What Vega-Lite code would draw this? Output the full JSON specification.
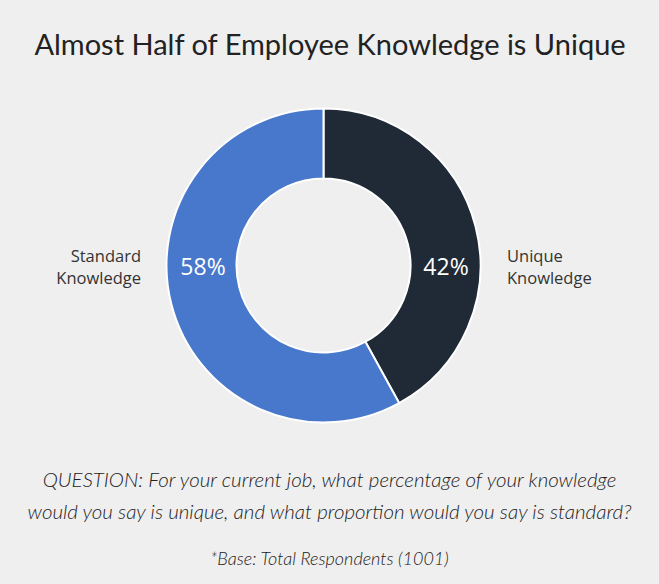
{
  "$schema": "https://vega.github.io/schema/vega-lite/v6.json",
  "autosize": {"type": "fit", "contains": "padding"},
  "width": 659,
  "height": 584,
  "padding": {"left": 0, "right": 12, "top": 31, "bottom": 15},
  "background": "#efefef",
  "config": {"view": {"stroke": null}},
  "title": {
    "text": ["QUESTION: For your current job, what percentage of your knowledge", "would you say is unique, and what proportion would you say is standard?"],
    "subtitle": "*Base: Total Respondents (1001)",
    "orient": "bottom",
    "anchor": "middle",
    "dx": 6,
    "offset": 4,
    "font": "Lato",
    "fontSize": 20.5,
    "fontStyle": "italic",
    "fontWeight": 300,
    "lineHeight": 32,
    "color": "#222222",
    "subtitleFont": "Lato",
    "subtitleFontSize": 18,
    "subtitleFontStyle": "italic",
    "subtitleFontWeight": 300,
    "subtitleColor": "#222222",
    "subtitlePadding": 27
  },
  "data": {
    "values": [
      {"category": "Unique Knowledge", "share": 0.42},
      {"category": "Standard Knowledge", "share": 0.58}
    ]
  },
  "layer": [
    {
      "mark": {"type": "arc", "outerRadius": 157, "innerRadius": 87, "stroke": "#ffffff", "strokeWidth": 2},
      "encoding": {
        "theta": {"field": "share", "type": "quantitative", "stack": true},
        "order": {"field": "category", "sort": "descending"},
        "color": {
          "field": "category",
          "type": "nominal",
          "scale": {"domain": ["Unique Knowledge", "Standard Knowledge"], "range": ["#1f2a36", "#4878cb"]},
          "legend": null
        }
      }
    },
    {
      "encoding": {
        "x": {
          "field": "category",
          "type": "nominal",
          "scale": {"type": "point", "domain": ["Standard Knowledge", "Unique Knowledge"], "range": [0, 659], "padding": 0.856, "align": 0.488},
          "axis": {
            "orient": "top",
            "title": "Almost Half of Employee Knowledge is Unique",
            "titleFont": "Lato",
            "titleFontSize": 29,
            "titleFontWeight": "normal",
            "titleColor": "#222222",
            "titlePadding": 4,
            "labels": false,
            "ticks": false,
            "domain": false,
            "grid": false
          }
        }
      },
      "layer": [
        {
          "mark": {"type": "text", "font": "Open Sans", "fontSize": 23, "color": "#ffffff", "baseline": "middle", "dy": 2},
          "encoding": {"text": {"field": "share", "type": "quantitative", "format": ".0%"}}
        },
        {
          "transform": [{"filter": "datum.category == 'Standard Knowledge'"}],
          "mark": {"type": "text", "font": "Open Sans", "fontSize": 16.5, "color": "#333333", "align": "right", "baseline": "middle", "lineBreak": " ", "lineHeight": 22, "dx": -62, "dy": -9},
          "encoding": {"text": {"field": "category", "type": "nominal"}}
        },
        {
          "transform": [{"filter": "datum.category == 'Unique Knowledge'"}],
          "mark": {"type": "text", "font": "Open Sans", "fontSize": 16.5, "color": "#333333", "align": "left", "baseline": "middle", "lineBreak": " ", "lineHeight": 22, "dx": 61, "dy": -9},
          "encoding": {"text": {"field": "category", "type": "nominal"}}
        }
      ]
    }
  ]
}
